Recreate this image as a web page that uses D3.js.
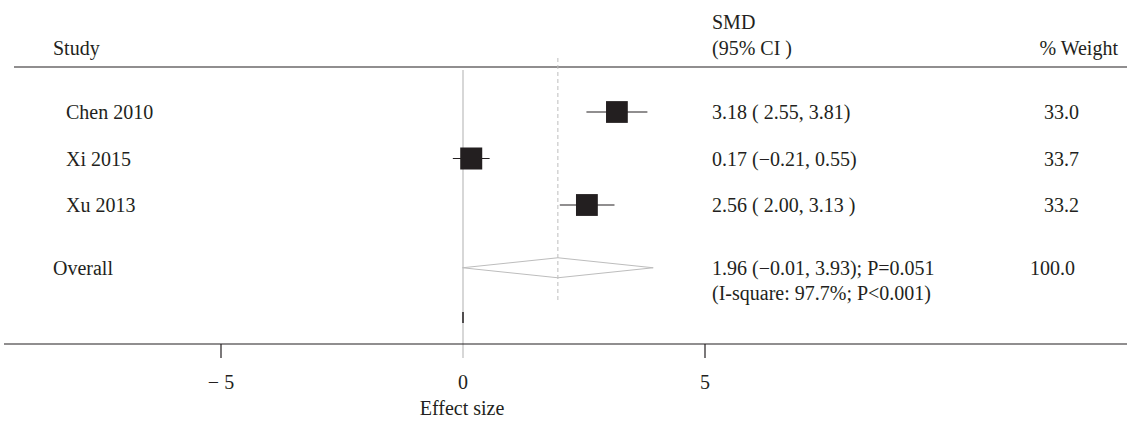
<!DOCTYPE html>
<html>
<head>
<meta charset="utf-8">
<script src="https://cdn.jsdelivr.net/npm/d3@7"></script>
<style>
  body { margin: 0; background: #fff; }
  svg text { font-family: "Liberation Serif", "DejaVu Serif", serif; fill: #231f20; }
</style>
</head>
<body>
<div id="chart"></div>
<script>
// study data
var studies = ["Chen 2010", "Xi 2015", "Xu 2013"];
var smd = [3.18, 0.17, 2.56];
var lower = [2.55, -0.21, 2.00];
var upper = [3.81, 0.55, 3.13];
var weights = [33.0, 33.7, 33.2];
var ciLabels = ["3.18 ( 2.55, 3.81)", "0.17 (\u22120.21, 0.55)", "2.56 ( 2.00, 3.13 )"];

// pooled estimate
var overall = { est: 1.96, lo: -0.01, hi: 3.93, weight: 100.0 };
var overallLabels = ["1.96 (\u22120.01, 3.93); P=0.051", "(I-square: 97.7%; P<0.001)"];

var ticks = [-5, 0, 5];
var tickLabels = ["\u2212 5", "0", "5"];

var width = 1127, height = 422;
var fontSize = 20;

var svg = d3.select("#chart").append("svg")
  .attr("width", width)
  .attr("height", height);

var x = d3.scaleLinear().domain([-5, 5]).range([221, 705]);
// row index -> vertical position; overall sits a bit lower
var y = d3.scaleLinear().domain([0, 1]).range([112, 158.5]);
var overallRow = 3.35;
var maxSide = 22;
var side = d3.scaleSqrt().domain([0, d3.max(weights)]).range([0, maxSide]);

var axisY = 344;
var colX = 712;

function label(txt, px, py, anchor) {
  return svg.append("text")
    .attr("x", px).attr("y", py).attr("dy", "0.35em")
    .attr("text-anchor", anchor || "start")
    .style("font-size", fontSize + "px")
    .text(txt);
}

// header
label("Study", 53, 48);
label("SMD", colX, 22);
label("(95% CI )", colX, 48);
label("% Weight", 1118, 48, "end");

svg.append("line")
  .attr("x1", 14).attr("x2", width)
  .attr("y1", 67).attr("y2", 67)
  .attr("stroke", "#231f20").attr("stroke-width", 1.2);

// null line (gray, solid) and overall line (dashed)
svg.append("line")
  .attr("x1", x(0)).attr("x2", x(0))
  .attr("y1", 70).attr("y2", axisY + 14)
  .attr("stroke", "#bdbdbd").attr("stroke-width", 1.2);

svg.append("line")
  .attr("x1", x(overall.est)).attr("x2", x(overall.est))
  .attr("y1", 58).attr("y2", 303)
  .attr("stroke", "#bdbdbd").attr("stroke-width", 1)
  .attr("stroke-dasharray", "4,3");

// small marker under the null line
svg.append("line")
  .attr("x1", x(0)).attr("x2", x(0))
  .attr("y1", 312).attr("y2", 323)
  .attr("stroke", "#231f20").attr("stroke-width", 1.5);

// study rows
var rows = svg.selectAll("g.study")
  .data(studies)
  .enter().append("g")
  .attr("class", "study");

rows.append("text")
  .attr("x", 66)
  .attr("y", function(d, i) { return y(i); })
  .attr("dy", "0.35em")
  .style("font-size", fontSize + "px")
  .text(function(d) { return d; });

rows.append("line")
  .attr("x1", function(d, i) { return x(lower[i]); })
  .attr("x2", function(d, i) { return x(upper[i]); })
  .attr("y1", function(d, i) { return y(i); })
  .attr("y2", function(d, i) { return y(i); })
  .attr("stroke", "#231f20").attr("stroke-width", 1.2);

rows.append("rect")
  .attr("x", function(d, i) { return x(smd[i]) - side(weights[i]) / 2; })
  .attr("y", function(d, i) { return y(i) - side(weights[i]) / 2; })
  .attr("width", function(d, i) { return side(weights[i]); })
  .attr("height", function(d, i) { return side(weights[i]); })
  .attr("fill", "#231f20");

rows.append("text")
  .attr("x", colX)
  .attr("y", function(d, i) { return y(i); })
  .attr("dy", "0.35em")
  .style("font-size", fontSize + "px")
  .text(function(d, i) { return ciLabels[i]; });

rows.append("text")
  .attr("x", 1079)
  .attr("y", function(d, i) { return y(i); })
  .attr("dy", "0.35em")
  .attr("text-anchor", "end")
  .style("font-size", fontSize + "px")
  .text(function(d, i) { return weights[i].toFixed(1); });

// overall row
var oy = y(overallRow);
label("Overall", 53, oy);

svg.append("path")
  .attr("d", "M" + x(overall.lo) + "," + oy +
    "L" + x(overall.est) + "," + (oy - 10) +
    "L" + x(overall.hi) + "," + oy +
    "L" + x(overall.est) + "," + (oy + 10) + "Z")
  .attr("fill", "none")
  .attr("stroke", "#bdbdbd").attr("stroke-width", 1);

svg.selectAll("text.ovl")
  .data(overallLabels)
  .enter().append("text")
  .attr("class", "ovl")
  .attr("x", colX)
  .attr("y", function(d, i) { return oy + i * 25; })
  .attr("dy", "0.35em")
  .style("font-size", fontSize + "px")
  .text(function(d) { return d; });

label(overall.weight.toFixed(1), 1075, oy, "end");

// x axis
svg.append("line")
  .attr("x1", 4).attr("x2", width)
  .attr("y1", axisY).attr("y2", axisY)
  .attr("stroke", "#231f20").attr("stroke-width", 1.2);

svg.selectAll("line.tick")
  .data(ticks.filter(function(t) { return t !== 0; }))
  .enter().append("line")
  .attr("class", "tick")
  .attr("x1", function(d) { return x(d); })
  .attr("x2", function(d) { return x(d); })
  .attr("y1", axisY).attr("y2", axisY + 14)
  .attr("stroke", "#231f20").attr("stroke-width", 1.2);

svg.selectAll("text.ticklab")
  .data(ticks)
  .enter().append("text")
  .attr("class", "ticklab")
  .attr("x", function(d) { return x(d); })
  .attr("y", 382)
  .attr("dy", "0.35em")
  .attr("text-anchor", "middle")
  .style("font-size", fontSize + "px")
  .text(function(d, i) { return tickLabels[i]; });

label("Effect size", 462, 408, "middle");
</script>
</body>
</html>
